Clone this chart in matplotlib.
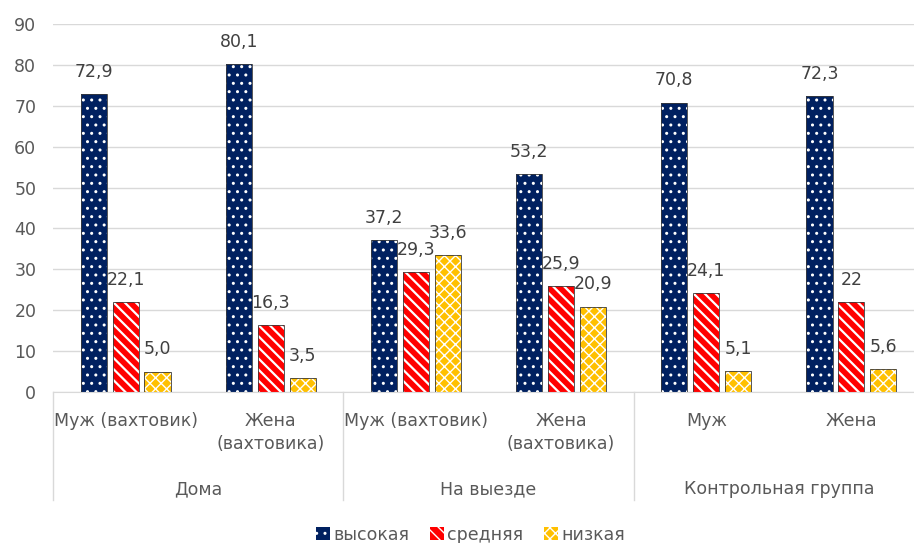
import numpy as np
import matplotlib.pyplot as plt

plt.rcParams['font.family'] = ['DejaVu Sans']

categories = ["Муж (вахтовик)", "Жена\n(вахтовика)", "Муж (вахтовик)", "Жена\n(вахтовика)", "Муж", "Жена"]
groups = ["Дома", "На выезде", "Контрольная группа"]
high = [72.9, 80.1, 37.2, 53.2, 70.8, 72.3]
mid = [22.1, 16.3, 29.3, 25.9, 24.1, 22]
low = [5.0, 3.5, 33.6, 20.9, 5.1, 5.6]
high_lbl = ["72,9", "80,1", "37,2", "53,2", "70,8", "72,3"]
mid_lbl = ["22,1", "16,3", "29,3", "25,9", "24,1", "22"]
low_lbl = ["5,0", "3,5", "33,6", "20,9", "5,1", "5,6"]
series = [("высокая", high, high_lbl, "#002060", "..", 1.0),
          ("средняя", mid, mid_lbl, "#FF0000", "\\\\\\", 1.6),
          ("низкая", low, low_lbl, "#FFC000", "xxx", 1.0)]

fig = plt.figure(figsize=(9.14, 5.43), dpi=100)
# plot area runs past the right edge of the picture, as in the original
ax = fig.add_axes([53/914, 1-392/543, 871/914, (392-24)/543])

x = np.arange(len(categories))
w = 0.18
step = 0.22
txt = "#404040"
handles = []
for i, (name, vals, lbls, col, hatch, hlw) in enumerate(series):
    plt.rcParams['hatch.linewidth'] = hlw
    pos = x + (i - 1) * step
    ax.bar(pos, vals, w, color=col, hatch=hatch, edgecolor="white", linewidth=0, zorder=2)
    ax.bar(pos, vals, w, fill=False, edgecolor="#3a3a3a", linewidth=0.6, zorder=3)
    h = ax.bar([0], [0], 0, color=col, hatch=hatch, edgecolor="white", linewidth=0)
    handles.append(h)
    for p, v, l in zip(pos, vals, lbls):
        ax.text(p, v + 3.2, l, ha="center", va="bottom", fontsize=12.5, color=txt, zorder=4)

ax.set_xlim(-0.5, 5.5)
ax.set_ylim(0, 90)
ax.set_yticks(range(0, 91, 10))
ax.yaxis.grid(True, color="#d9d9d9", linewidth=1)
ax.set_axisbelow(True)
for s in ["top", "right", "left"]:
    ax.spines[s].set_visible(False)
ax.spines["bottom"].set_color("#d9d9d9")
ax.tick_params(axis="y", length=0, labelsize=12.5, labelcolor="#595959", pad=12)
ax.tick_params(axis="x", length=0)
ax.set_xticks([])

for c, lab in zip(x, categories):
    ax.text(c, -5.0, lab, ha="center", va="top", fontsize=12.5, color="#595959",
            clip_on=False, linespacing=1.35)
for g, lab in enumerate(groups):
    ax.text(2 * g + 0.5, -21.5, lab, ha="center", va="top", fontsize=12.5, color="#595959",
            clip_on=False)
for b in [-0.5, 1.5, 3.5, 5.5]:
    ax.plot([b, b], [0, -26.5], color="#d9d9d9", linewidth=1, clip_on=False)

leg = fig.legend(handles, [s[0] for s in series], loc="lower center",
                 bbox_to_anchor=(0.515, -0.03), ncol=3, frameon=False, fontsize=12.5,
                 handlelength=0.8, handleheight=0.8, handletextpad=0.2, columnspacing=1.2)
for t in leg.get_texts():
    t.set_color("#595959")

fig.savefig("out.png", dpi=100)
